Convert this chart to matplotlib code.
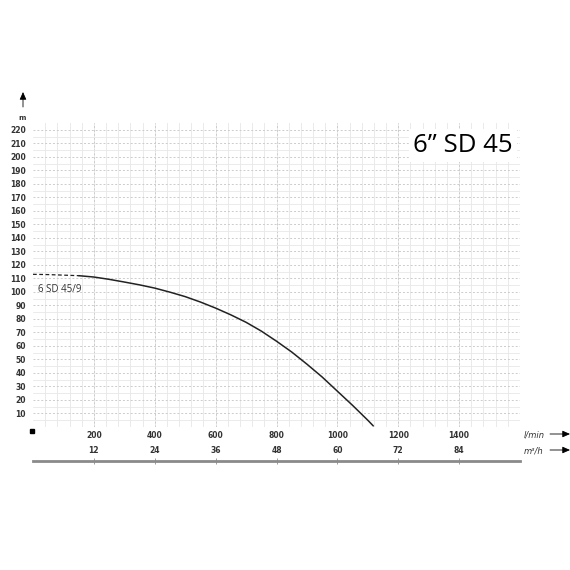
import numpy as np
import matplotlib
matplotlib.use("Agg")
import matplotlib.pyplot as plt

# curva 6 SD 45/9 (l/min, m)
q_dashed = [0, 50, 100, 150]
h_dashed = [113, 112.8, 112.4, 112]
q_curve = [150, 200, 250, 300, 350, 400, 450, 500, 550, 600, 650, 700, 750,
           800, 850, 900, 950, 1000, 1050, 1100, 1118]
h_curve = [112, 111, 109.3, 107.3, 105.2, 102.8, 99.8, 96.5, 92.5, 88, 83, 77.5, 71,
           63.5, 55.5, 46.5, 37, 26.5, 16, 5, 0.8]

y_ticks = list(range(10, 221, 10))
x_ticks = [200, 400, 600, 800, 1000, 1200, 1400]
m3h_ticks = [12, 24, 36, 48, 60, 72, 84]

W, H = 570, 570
fig = plt.figure(figsize=(5.7, 5.7), dpi=100)


def fbox(x0, y0, x1, y1):
    # caja en pixeles (origen arriba-izquierda) -> fraccion de figura
    return [x0 / W, 1 - y1 / H, (x1 - x0) / W, (y1 - y0) / H]


ax = fig.add_axes(fbox(33, 123, 520, 427))
ax.set_xlim(0, 1600)
ax.set_ylim(0, 225)

# rejilla
for x in np.arange(40, 1600, 40):
    ax.axvline(x, color="#e6e6e6", lw=0.6, zorder=0)
for x in np.arange(200, 1600, 200):
    ax.axvline(x, color="#cccccc", lw=0.7, ls=(0, (2, 2)), zorder=0)
for y in np.arange(5, 225, 10):
    ax.axhline(y, color="#e8e8e8", lw=0.6, zorder=0)
for y in np.arange(10, 225, 10):
    ax.axhline(y, color="#cccccc", lw=0.7, ls=(0, (2, 2)), zorder=0)

ax.plot(q_dashed, h_dashed, color="#222222", lw=0.9, ls=(0, (3, 2)))
ax.plot(q_curve, h_curve, color="#222222", lw=1.1, solid_capstyle="round")
ax.text(18, 102, "6 SD 45/9", fontsize=7, color="#333333", va="center", ha="left",
        family="Open Sans")

for s in ax.spines.values():
    s.set_visible(False)
ax.set_yticks(y_ticks)
ax.set_xticks(x_ticks)
ax.tick_params(axis="both", length=0, labelsize=5.5, colors="#333333", pad=3)
ax.tick_params(axis="y", pad=5)
for lab in ax.get_xticklabels() + ax.get_yticklabels():
    lab.set_fontweight("bold")

# titulo
ax.text(0.985, 0.968, "6\u201d SD 45", transform=ax.transAxes, fontsize=18.5,
        ha="right", va="top", color="black", family="Open Sans",
        bbox=dict(facecolor="white", edgecolor="none", pad=3))

# eje m3/h
ax2 = fig.add_axes(fbox(33, 459.5, 520, 460.5))
ax2.set_xlim(0, 96)
ax2.set_ylim(0, 1)
ax2.set_yticks([])
for k in ["top", "left", "right"]:
    ax2.spines[k].set_visible(False)
ax2.spines["bottom"].set_color("#8a8a8a")
ax2.spines["bottom"].set_linewidth(2)
ax2.set_xticks(m3h_ticks)
ax2.tick_params(axis="x", bottom=True, top=False, labelbottom=False, labeltop=True,
                direction="inout", length=4, width=0.6, color="#8a8a8a",
                labelsize=5.5, labelcolor="#333333", pad=1)
for lab in ax2.get_xticklabels():
    lab.set_fontweight("bold")

# unidades y flechas
fig.text(524 / W, 1 - 435 / H, "l/min", fontsize=6, style="italic", color="#333333", va="center")
fig.text(524 / W, 1 - 451 / H, "m\u00b3/h", fontsize=6, style="italic", color="#333333", va="center")
fig.text(22 / W, 1 - 118 / H, "m", fontsize=5, color="#333333", ha="center", va="center", fontweight="bold")
arrow = dict(arrowstyle="-|>,head_length=0.45,head_width=0.2", color="black", lw=0.6,
             shrinkA=0, shrinkB=0)
fig.add_artist(plt.Annotation("", xy=(570 / W, 1 - 434 / H), xytext=(550 / W, 1 - 434 / H),
                              xycoords="figure fraction", arrowprops=arrow))
fig.add_artist(plt.Annotation("", xy=(570 / W, 1 - 450 / H), xytext=(550 / W, 1 - 450 / H),
                              xycoords="figure fraction", arrowprops=arrow))
fig.add_artist(plt.Annotation("", xy=(23 / W, 1 - 92 / H), xytext=(23 / W, 1 - 107 / H),
                              xycoords="figure fraction", arrowprops=arrow))
fig.add_artist(plt.Rectangle((30 / W, 1 - 433 / H), 4 / W, 4 / H, color="black",
                             transform=fig.transFigure))

fig.savefig("out.png", dpi=100)
